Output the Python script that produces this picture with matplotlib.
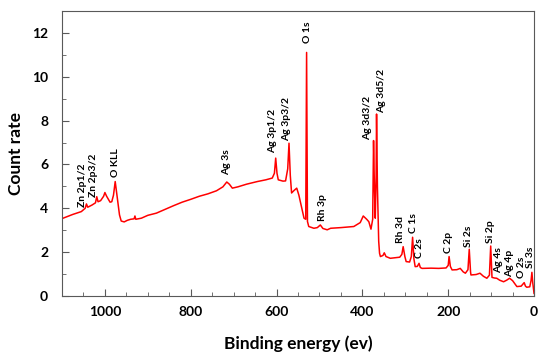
import matplotlib.pyplot as plt

plt.rcParams['font.family'] = ['Lato', 'DejaVu Sans']

# Spectre XPS
energy = [1100, 1075, 1055, 1046, 1043, 1040, 1030, 1022, 1019, 1016, 1010, 1003, 1000,
          996, 988, 984, 980, 976, 972, 966, 962, 955, 948, 940, 932, 930, 928, 915,
          900, 880, 860, 840, 820, 800, 780, 760, 740, 725, 716, 710, 703, 690, 670,
          645, 625, 610, 605, 602, 599, 596, 585, 579, 574, 571, 568, 565, 560, 553,
          548, 540, 536, 532, 530, 528, 525, 513, 505, 498, 492, 482, 474, 450, 420,
          405, 398, 390, 385, 380, 376, 374, 372, 370, 368, 367, 365, 362, 360, 358,
          352, 349, 345, 335, 313, 308, 305, 301, 298, 290, 286, 283, 280, 277, 272,
          268, 265, 261, 240, 222, 205, 200, 198, 195, 191, 180, 172, 165, 160, 154,
          151, 148, 147, 135, 126, 118, 110, 104, 101, 98, 92, 87, 80, 71, 64, 57,
          50, 40, 30, 23, 20, 17, 10, 7, 5, 3, 0]
counts = [3.53, 3.72, 3.85, 4.0, 4.2, 4.05, 4.15, 4.25, 4.53, 4.3, 4.35, 4.55, 4.72,
          4.55, 4.28, 4.3, 4.6, 5.22, 4.6, 3.7, 3.42, 3.38, 3.45, 3.5, 3.52, 3.65, 3.5, 3.55,
          3.68, 3.78, 3.95, 4.12, 4.28, 4.41, 4.55, 4.66, 4.8, 4.98, 5.2, 5.1, 4.92, 4.98, 5.1,
          5.22, 5.3, 5.38, 5.6, 6.29, 5.6, 5.3, 5.24, 5.25, 5.8, 6.97, 5.5, 4.7, 4.8, 4.92,
          4.6, 3.9, 3.55, 3.5, 11.11, 3.4, 3.17, 3.09, 3.12, 3.24, 3.08, 3.02, 3.09, 3.12, 3.17,
          3.35, 3.65, 3.5, 3.39, 3.05, 3.5, 7.09, 5.0, 3.55, 5.5, 8.3, 5.0, 2.5, 1.95, 1.8,
          1.85, 1.97, 1.8, 1.72, 1.77, 1.9, 2.25, 1.8, 1.57, 1.55, 1.8, 2.68, 1.7, 1.34, 1.35,
          1.49, 1.3, 1.26, 1.27, 1.26, 1.28, 1.4, 1.80, 1.35, 1.19, 1.2, 1.26, 1.1, 1.04, 1.2,
          2.13, 1.1, 0.96, 0.98, 1.04, 0.9, 0.81, 0.95, 2.28, 0.85, 0.82, 0.81, 0.72, 0.65, 0.72, 0.81,
          0.7, 0.43, 0.45, 0.61, 0.45, 0.40, 0.42, 0.7, 1.08, 0.6, 0.12]

# Etiquettes des pics (position du debut du texte)
peak_names = ['Zn 2p1/2', 'Zn 2p3/2', 'O KLL', 'Ag 3s', 'Ag 3p1/2', 'Ag 3p3/2', 'O 1s',
              'Rh 3p', 'Ag 3d3/2', 'Ag 3d5/2', 'Rh 3d', 'C 1s', 'C 2s', 'C 2p', 'Si 2s',
              'Si 2p', 'Ag 4s', 'Ag 4p', 'O 2s', 'Si 3s']
label_x = [1052, 1027, 976, 716, 610, 577, 529, 494, 389, 356, 312, 282, 268, 199, 153,
           101, 83, 56, 30, 9]
label_y = [4.05, 4.53, 5.45, 5.53, 6.54, 7.05, 11.54, 3.42, 7.12, 8.34, 2.43, 2.86, 1.72,
           1.95, 2.25, 2.41, 1.04, 0.88, 0.81, 1.3]

fig = plt.figure(figsize=(5.5, 3.62), dpi=100)
ax = fig.add_axes([0.1127, 0.1823, 0.8583, 0.7873])

ax.plot(energy, counts, color='#ff0000', linewidth=1.1)

for name, x, y in zip(peak_names, label_x, label_y):
    ax.text(x, y, name, rotation=90, ha='center', va='bottom',
            fontsize=7.5, fontweight='bold')

ax.set_xlim(1100, 0)
ax.set_ylim(0, 13)
ax.set_xticks([1000, 800, 600, 400, 200, 0])
ax.set_xticks(range(0, 1101, 50), minor=True)
ax.set_yticks([0, 2, 4, 6, 8, 10, 12])
ax.set_yticks(range(0, 14), minor=True)

ax.tick_params(which='both', direction='in', color='#595959')
ax.tick_params(which='major', length=5, labelsize=10)
ax.tick_params(axis='x', which='major', pad=7)
ax.tick_params(axis='y', which='major', pad=10)
ax.tick_params(which='minor', length=3)
for lab in ax.get_xticklabels() + ax.get_yticklabels():
    lab.set_fontweight('bold')
for sp in ax.spines.values():
    sp.set_color('#595959')

ax.set_xlabel('Binding energy (ev)', fontsize=12.5, fontweight='bold', labelpad=13)
ax.set_ylabel('Count rate', fontsize=12.5, fontweight='bold', labelpad=6)

plt.savefig('out.png', dpi=100)
